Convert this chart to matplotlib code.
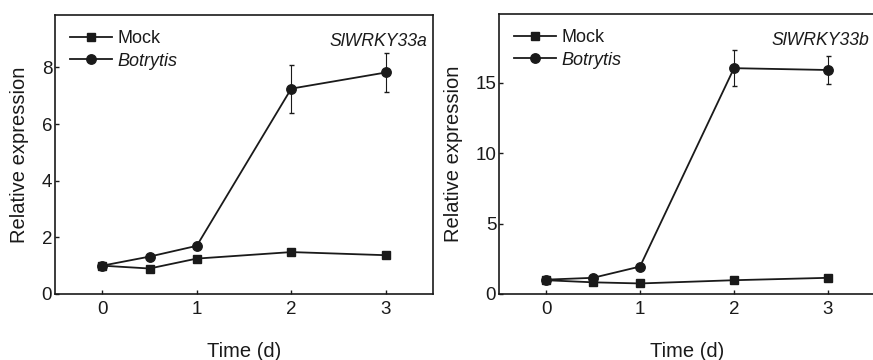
import matplotlib.pyplot as plt
from matplotlib.lines import Line2D

plt.rcParams['font.family'] = ['Liberation Sans', 'DejaVu Sans']

# время (сутки)
time = [0, 0.5, 1, 2, 3]

# SlWRKY33a
mock_a = [1.0, 0.9, 1.25, 1.48, 1.37]
mock_a_err = [0.05, 0.05, 0.05, 0.05, 0.05]
botr_a = [1.0, 1.32, 1.7, 7.25, 7.82]
botr_a_err = [0.05, 0.05, 0.12, 0.85, 0.68]

# SlWRKY33b
mock_b = [0.98, 0.83, 0.75, 0.98, 1.15]
mock_b_err = [0.05, 0.05, 0.05, 0.05, 0.05]
botr_b = [1.02, 1.15, 1.95, 16.05, 15.92]
botr_b_err = [0.05, 0.05, 0.08, 1.3, 0.98]

xticks = [0, 1, 2, 3]
col = '#1a1a1a'

fig = plt.figure(figsize=(8.73, 3.6), dpi=100)
ax1 = fig.add_axes([55/873, 1 - 294/360, 378/873, 279/360])
ax2 = fig.add_axes([499/873, 1 - 294/360, 376/873, 280/360])


def draw(ax, mock, mock_err, botr, botr_err, ylim, yticks, gene):
    ax.errorbar(time, mock, yerr=mock_err, color=col, marker='s', ms=6.3,
                lw=1.3, capsize=1.8, elinewidth=0.8)
    ax.errorbar(time, botr, yerr=botr_err, color=col, marker='o', ms=6.8,
                lw=1.3, capsize=1.8, elinewidth=0.8)
    ax.set_xlim(-0.5, 3.5)
    ax.set_ylim(*ylim)
    ax.set_xticks(xticks)
    ax.set_yticks(yticks)
    ax.tick_params(direction='in', length=3, width=1, labelsize=13.5, colors=col)
    ax.tick_params(axis='x', pad=5)
    ax.tick_params(axis='y', pad=2)
    for s in ax.spines.values():
        s.set_linewidth(1.2)
        s.set_color(col)
    ax.set_xlabel('Time (d)', fontsize=14.5, labelpad=17, color=col)
    ax.set_ylabel('Relative expression', fontsize=14.5, labelpad=9, color=col)
    handles = [Line2D([], [], color=col, marker='s', ms=6.3, lw=1.3),
               Line2D([], [], color=col, marker='o', ms=6.8, lw=1.3)]
    leg = ax.legend(handles, ['Mock', 'Botrytis'], loc='upper left', frameon=False,
                    fontsize=13, handlelength=2.3, handletextpad=0.3,
                    borderaxespad=0.55, borderpad=0.3, labelspacing=0.3)
    leg.get_texts()[1].set_style('italic')
    for t in leg.get_texts():
        t.set_color(col)
    ax.text(0.985, 0.935, gene, transform=ax.transAxes, ha='right', va='top',
            fontsize=12.7, style='italic', color=col)


draw(ax1, mock_a, mock_a_err, botr_a, botr_a_err, (0, 9.85), [0, 2, 4, 6, 8], 'SlWRKY33a')
draw(ax2, mock_b, mock_b_err, botr_b, botr_b_err, (0, 19.9), [0, 5, 10, 15], 'SlWRKY33b')

plt.savefig('out.png', dpi=100)
